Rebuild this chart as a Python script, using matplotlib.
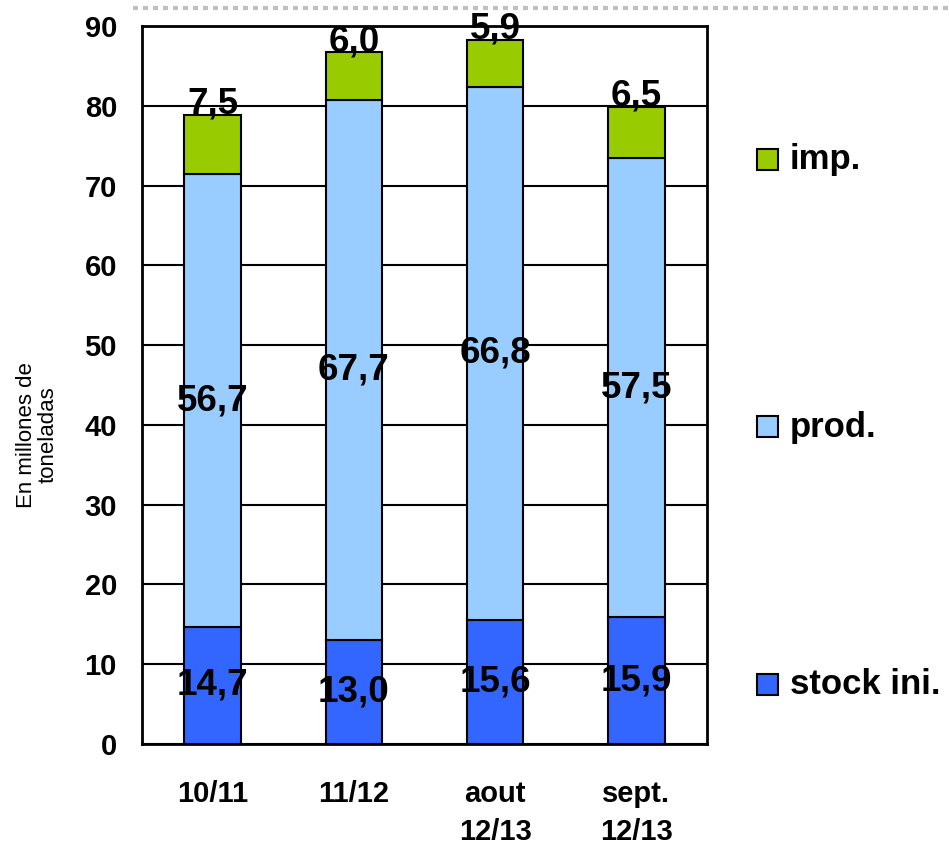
import matplotlib
matplotlib.use("Agg")
import matplotlib.pyplot as plt
from matplotlib.patches import Rectangle
from matplotlib.lines import Line2D

categories = ["10/11", "11/12", "aout\n12/13", "sept.\n12/13"]
stock = [14.7, 13.0, 15.6, 15.9]
prod = [56.7, 67.7, 66.8, 57.5]
imp = [7.5, 6.0, 5.9, 6.5]
series_names = ["stock ini.", "prod.", "imp."]
colors = ["#3366FF", "#99CCFF", "#99CC00"]
yticks = [0, 10, 20, 30, 40, 50, 60, 70, 80, 90]

plt.rcParams['font.family'] = ['Liberation Sans', 'DejaVu Sans']

W, H = 949, 848
fig = plt.figure(figsize=(W / 100, H / 100), dpi=100)
ax = fig.add_axes([142 / W, 1 - 744 / H, (707 - 142) / W, (744 - 26) / H])

x = list(range(len(categories)))
bw = 0.40
ax.bar(x, stock, bw, color=colors[0], edgecolor="black", linewidth=1.5, zorder=3)
ax.bar(x, prod, bw, bottom=stock, color=colors[1], edgecolor="black", linewidth=1.5, zorder=3)
bottom2 = [s + p for s, p in zip(stock, prod)]
ax.bar(x, imp, bw, bottom=bottom2, color=colors[2], edgecolor="black", linewidth=1.5, zorder=3)

def fmt(v):
    return f"{v:.1f}".replace(".", ",")

for i in x:
    ax.text(i, stock[i] / 2, fmt(stock[i]), ha="center", va="center",
            fontsize=26.5, fontweight="bold", zorder=5)
    ax.text(i, stock[i] + prod[i] / 2, fmt(prod[i]), ha="center", va="center",
            fontsize=26.5, fontweight="bold", zorder=5)
    top = bottom2[i] + imp[i]
    ax.text(i, top + 1.3, fmt(imp[i]), ha="center", va="center",
            fontsize=26.5, fontweight="bold", zorder=5, clip_on=False)

ax.set_xlim(-0.5, len(categories) - 0.5)
ax.set_ylim(0, 90)
ax.set_yticks(yticks)
ax.set_yticklabels([str(t) for t in yticks], fontsize=21, fontweight="bold")
ax.set_xticks(x)
ax.set_xticklabels(categories, fontsize=21, fontweight="bold", linespacing=1.45)
ax.tick_params(axis="y", length=0, pad=18)
ax.tick_params(axis="x", length=0, pad=26)
ax.yaxis.grid(True, color="black", linewidth=1.5, zorder=0)
ax.set_axisbelow(True)
for s in ax.spines.values():
    s.set_linewidth(2)
    s.set_color("black")

fig.text(37 / W, 1 - 435 / H, "En millones de\ntoneladas", rotation=90,
         ha="center", va="center", fontsize=16, multialignment="center",
         linespacing=1.05)

# legend (manual placement)
leg_y = [685, 427, 160]
for name, col, yy in zip(series_names, colors, leg_y):
    fig.add_artist(Rectangle((757 / W, 1 - (yy + 10) / H), 21 / W, 21 / H,
                             transform=fig.transFigure, facecolor=col,
                             edgecolor="black", linewidth=1.5))
    fig.text(790 / W, 1 - yy / H, name, ha="left", va="center",
             fontsize=25, fontweight="bold")

fig.add_artist(Line2D([133 / W, 1.0], [1 - 8 / H, 1 - 8 / H], transform=fig.transFigure,
                      color="#c0c0c0", linewidth=3, linestyle=(0, (1.2, 1.2))))

fig.savefig("out.png", dpi=100)
